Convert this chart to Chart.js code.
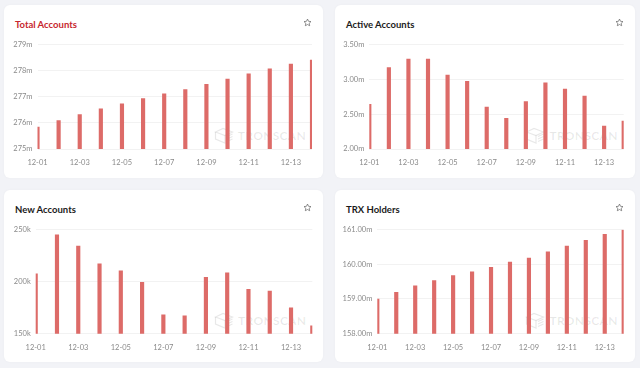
<!DOCTYPE html>
<html>
<head>
<meta charset="utf-8">
<script src="https://cdn.jsdelivr.net/npm/chart.js@4.4.1/dist/chart.umd.min.js"></script>
<style>
    html, body { margin: 0; padding: 0; }
    body {
        width: 640px; height: 368px; position: relative; overflow: hidden;
        background: #f2f3f7;
        font-family: Lato, 'Open Sans', sans-serif;
    }
    .card {
        position: absolute; background: #fff; border-radius: 6px;
        box-shadow: 0 0 3px rgba(0, 0, 0, 0.03);
    }
    .card h3 {
        position: absolute; left: 11px; top: 15px; margin: 0;
        font-size: 9.5px; font-weight: 700; line-height: 1; color: #1b1b1b;
    }
    .card h3.red { color: #c7262e; }
    .star { position: absolute; right: 11px; top: 12.5px; width: 9px; height: 9px; }
    .mark {
        position: absolute; display: flex; align-items: center; gap: 4px;
        font-size: 12px; font-weight: 700; letter-spacing: 0.3px; color: rgba(0, 0, 0, 0.09);
    }
    .card canvas { position: absolute; left: 0; }
</style>
</head>
<body>
<script>
// Data
const days = ['12-01', '12-02', '12-03', '12-04', '12-05', '12-06', '12-07',
              '12-08', '12-09', '12-10', '12-11', '12-12', '12-13', '12-14'];

// millions
const totalAccounts = [275.84, 276.09, 276.32, 276.54, 276.73, 276.93, 277.11,
                       277.27, 277.48, 277.68, 277.88, 278.07, 278.25, 278.40];
// millions
const activeAccounts = [2.64, 3.17, 3.29, 3.29, 3.06, 2.97, 2.60,
                        2.44, 2.68, 2.95, 2.86, 2.76, 2.33, 2.40];
// thousands
const newAccounts = [207.5, 245, 234, 217, 210.4, 199.2, 168.1,
                     167.1, 204, 208.5, 192.6, 191, 174.8, 157.6];
// millions
const trxHolders = [159.00, 159.19, 159.38, 159.53, 159.67, 159.78, 159.91,
                    160.06, 160.18, 160.36, 160.52, 160.69, 160.86, 160.98];

// y axis ranges [min, max, step]
const totalTicks = [275, 279, 1];
const activeTicks = [2, 3.5, 0.5];
const newTicks = [150, 250, 50];
const trxTicks = [158, 161, 1];

const barColor = '#dd6b68';

const starSvg = '<svg class="star" viewBox="0 0 24 24"><path d="M12 2.8l2.8 6 6.5.8-4.8 4.5 1.3 6.5L12 17.4l-5.8 3.2 1.3-6.5-4.8-4.5 6.5-.8z" fill="none" stroke="#555" stroke-width="1.7" stroke-linejoin="round"/></svg>';
const logoSvg = '<svg width="20" height="17" viewBox="0 0 20 17"><g fill="none" stroke="rgba(0,0,0,0.09)" stroke-width="1.2"><path d="M1.5 5L9 1.5 18.5 5 11 8.5z"/><path d="M1.5 5v7L11 16V8.5"/><path d="M13 9.5l5.5-2.5M13 12l5.5-2.5M13 14.5l5.5-2.5"/></g></svg>';

// card rect [x, y, w, h] and chart area [left, right, top, bottom], page coords
const panels = [
    { title: 'Total Accounts', red: true, values: totalAccounts, ticks: totalTicks,
      fmt: v => v.toFixed(0) + 'm', card: [4, 5, 319, 173], area: [37.5, 312, 44, 149] },
    { title: 'Active Accounts', values: activeAccounts, ticks: activeTicks,
      fmt: v => v.toFixed(2) + 'm', card: [335, 5, 300, 173], area: [369.3, 623.7, 44, 149] },
    { title: 'New Accounts', values: newAccounts, ticks: newTicks,
      fmt: v => v.toFixed(0) + 'k', card: [4, 190, 319, 172], area: [35.7, 312.3, 228.7, 333.7] },
    { title: 'TRX Holders', values: trxHolders, ticks: trxTicks,
      fmt: v => v.toFixed(2) + 'm', card: [335, 190, 300, 172], area: [377.3, 623.7, 228.7, 333.7] }
];

function buildPanel(p) {
    const [cx, cy, cw, ch] = p.card;
    const canvasTop = 30;
    const canvasH = ch - canvasTop;
    const chartLeft = p.area[0] - cx;
    const chartRight = p.area[1] - cx;
    const chartTop = p.area[2] - cy - canvasTop;
    const chartBottom = p.area[3] - cy - canvasTop;

    const card = document.createElement('div');
    card.className = 'card';
    card.style.cssText = `left:${cx}px;top:${cy}px;width:${cw}px;height:${ch}px`;
    card.innerHTML = `<h3 class="${p.red ? 'red' : ''}">${p.title}</h3>${starSvg}
        <div class="mark" style="right:${cw - chartRight + 6}px;top:${p.area[3] - cy - 22}px">${logoSvg}<span>TRONSCAN</span></div>`;

    const canvas = document.createElement('canvas');
    canvas.width = cw;
    canvas.height = canvasH;
    canvas.style.top = canvasTop + 'px';
    card.appendChild(canvas);
    document.body.appendChild(card);

    const tickFont = { family: 'Lato', size: 7.5 };

    new Chart(canvas, {
        type: 'bar',
        data: {
            labels: days,
            datasets: [{ data: p.values, backgroundColor: barColor, barThickness: 3.5 }]
        },
        options: {
            responsive: false,
            animation: false,
            layout: { padding: { left: 0, right: cw - chartRight, top: chartTop, bottom: 0 } },
            plugins: { legend: { display: false }, tooltip: { enabled: false } },
            scales: {
                x: {
                    offset: false,
                    grid: { display: false, drawTicks: false },
                    border: { display: false },
                    ticks: {
                        autoSkip: false, maxRotation: 0, padding: 9, color: '#8a8a8a', font: tickFont,
                        callback: (v, i) => i % 2 === 0 ? days[i] : ''
                    },
                    afterFit: s => { s.height = canvasH - chartBottom; }
                },
                y: {
                    min: p.ticks[0],
                    max: p.ticks[1],
                    grid: { color: '#f2f2f2', drawTicks: false },
                    border: { display: false },
                    ticks: { stepSize: p.ticks[2], padding: 5, color: '#8a8a8a', font: tickFont, callback: p.fmt },
                    afterFit: s => { s.width = chartLeft; }
                }
            }
        }
    });
}

panels.forEach(buildPanel);
</script>
</body>
</html>
